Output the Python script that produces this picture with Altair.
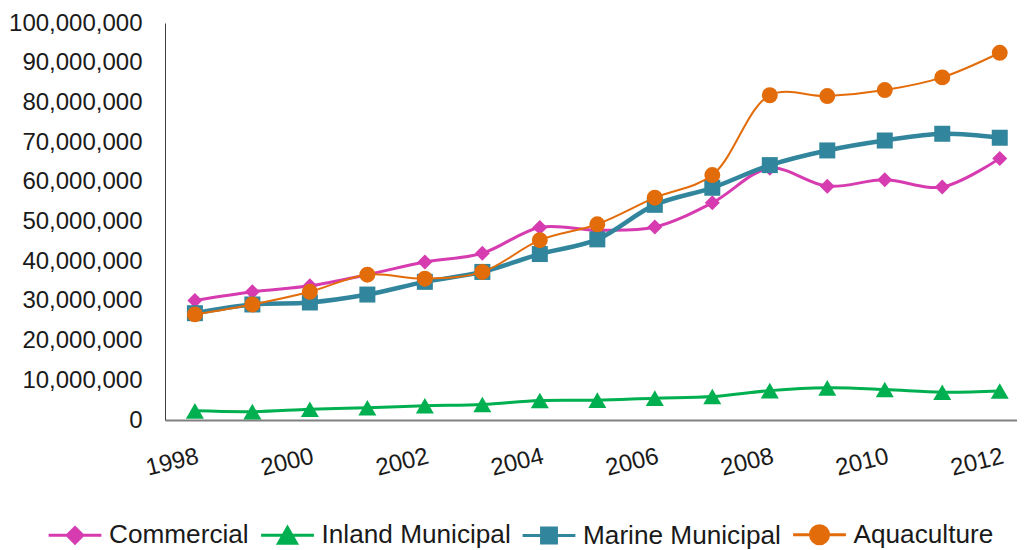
import altair as alt
import pandas as pd

years = list(range(1998, 2013))
series_names = ["Commercial", "Inland Municipal", "Marine Municipal", "Aquaculture"]
commercial = [30.1e6, 32.3e6, 33.8e6, 36.6e6, 39.8e6, 42.0e6, 48.5e6, 47.8e6,
              48.6e6, 54.7e6, 63.4e6, 58.9e6, 60.5e6, 58.7e6, 65.9e6]
inland = [2.3e6, 2.1e6, 2.7e6, 3.1e6, 3.6e6, 3.9e6, 4.9e6, 5.0e6,
          5.5e6, 5.9e6, 7.4e6, 8.1e6, 7.7e6, 7.0e6, 7.3e6]
marine = [26.9e6, 29.1e6, 29.6e6, 31.6e6, 34.8e6, 37.3e6, 41.8e6, 45.5e6,
          54.2e6, 58.5e6, 64.2e6, 67.9e6, 70.4e6, 72.1e6, 71.1e6]
aqua = [26.6e6, 29.1e6, 32.3e6, 36.6e6, 35.6e6, 37.3e6, 45.3e6, 49.3e6,
        56.0e6, 61.7e6, 81.8e6, 81.6e6, 83.1e6, 86.3e6, 92.5e6]

x_tick_labels = [1998, 2000, 2002, 2004, 2006, 2008, 2010, 2012]
y_tick_values = [i * 10_000_000 for i in range(11)]

colors = ["#D63BB0", "#00B050", "#31859C", "#E36C0A"]
shapes = ["diamond", "triangle-up", "square", "circle"]
sizes = [225, 324, 256, 254]
widths = [3, 3, 4.5, 2]
legend_paths = [
    "M-2.2,0H2.2M0,-0.65L0.65,0L0,0.65L-0.65,0Z",
    "M-2.2,0H2.2M0,-0.65L0.75,0.65L-0.75,0.65Z",
    "M-2.2,0H2.2M-0.62,-0.62H0.62V0.62H-0.62Z",
    "M-2.2,0H2.2M0.75,0A0.75,0.75,0,1,1,-0.75,0A0.75,0.75,0,1,1,0.75,0Z",
]

values_by_series = [commercial, inland, marine, aqua]
rows = []
for name, vals in zip(series_names, values_by_series):
    for yr, v in zip(years, vals):
        rows.append({"Year": yr, "Value": v, "Series": name})
df = pd.DataFrame(rows)

FONT = "Liberation Sans"

x_enc = alt.X("Year:Q",
              scale=alt.Scale(domain=[1997.48, 2012.3], nice=False, zero=False),
              axis=alt.Axis(values=x_tick_labels, format="d", labelAngle=346,
                            labelPadding=24, ticks=False, grid=False,
                            domainColor="#808080", domainWidth=2,
                            labelFontSize=24, labelFont=FONT, labelColor="#1a1a1a",
                            labelFlush=False, labelOverlap=False, labelBound=False,
                            title=None))
y_enc = alt.Y("Value:Q",
              scale=alt.Scale(domain=[0, 100_000_000], nice=False),
              axis=alt.Axis(values=y_tick_values, format=",d", ticks=False, grid=False,
                            labelPadding=23, domainColor="#404040", domainWidth=1,
                            labelFontSize=24, labelFont=FONT, labelColor="#1a1a1a",
                            title=None))

base = alt.Chart(df)
layers = []
for name, c, s, sz, w in zip(series_names, colors, shapes, sizes, widths):
    sub = base.transform_filter(alt.datum.Series == name)
    layers.append(sub.mark_line(color=c, strokeWidth=w, interpolate="catmull-rom")
                  .encode(x=x_enc, y=y_enc))
    layers.append(sub.mark_point(color=c, shape=s, size=sz, filled=True, opacity=1)
                  .encode(x=x_enc, y=y_enc))


def make_legend():
    return alt.Legend(orient="none", legendX=-103.5, legendY=498,
                      direction="horizontal", columns=4, title=None,
                      labelFontSize=26.2, labelFont=FONT, labelColor="#1a1a1a",
                      symbolSize=576, symbolStrokeWidth=3, symbolOpacity=1,
                      labelOffset=20.5, columnPadding=5.5, padding=0,
                      labelLimit=400)


legend_layer = base.mark_point(filled=True, opacity=0).encode(
    x=x_enc, y=y_enc,
    fill=alt.Fill("Series:N", scale=alt.Scale(domain=series_names, range=colors),
                  legend=make_legend()),
    stroke=alt.Stroke("Series:N", scale=alt.Scale(domain=series_names, range=colors),
                      legend=make_legend()),
    shape=alt.Shape("Series:N", scale=alt.Scale(domain=series_names, range=legend_paths),
                    legend=make_legend()),
)

chart = alt.layer(legend_layer, *layers).properties(
    width=852, height=397,
    padding={"left": 0, "top": 3, "right": 0, "bottom": 0},
    background="white",
).configure_view(stroke=None)

chart.save("out.html", embed_options={"renderer": "svg", "actions": False})
